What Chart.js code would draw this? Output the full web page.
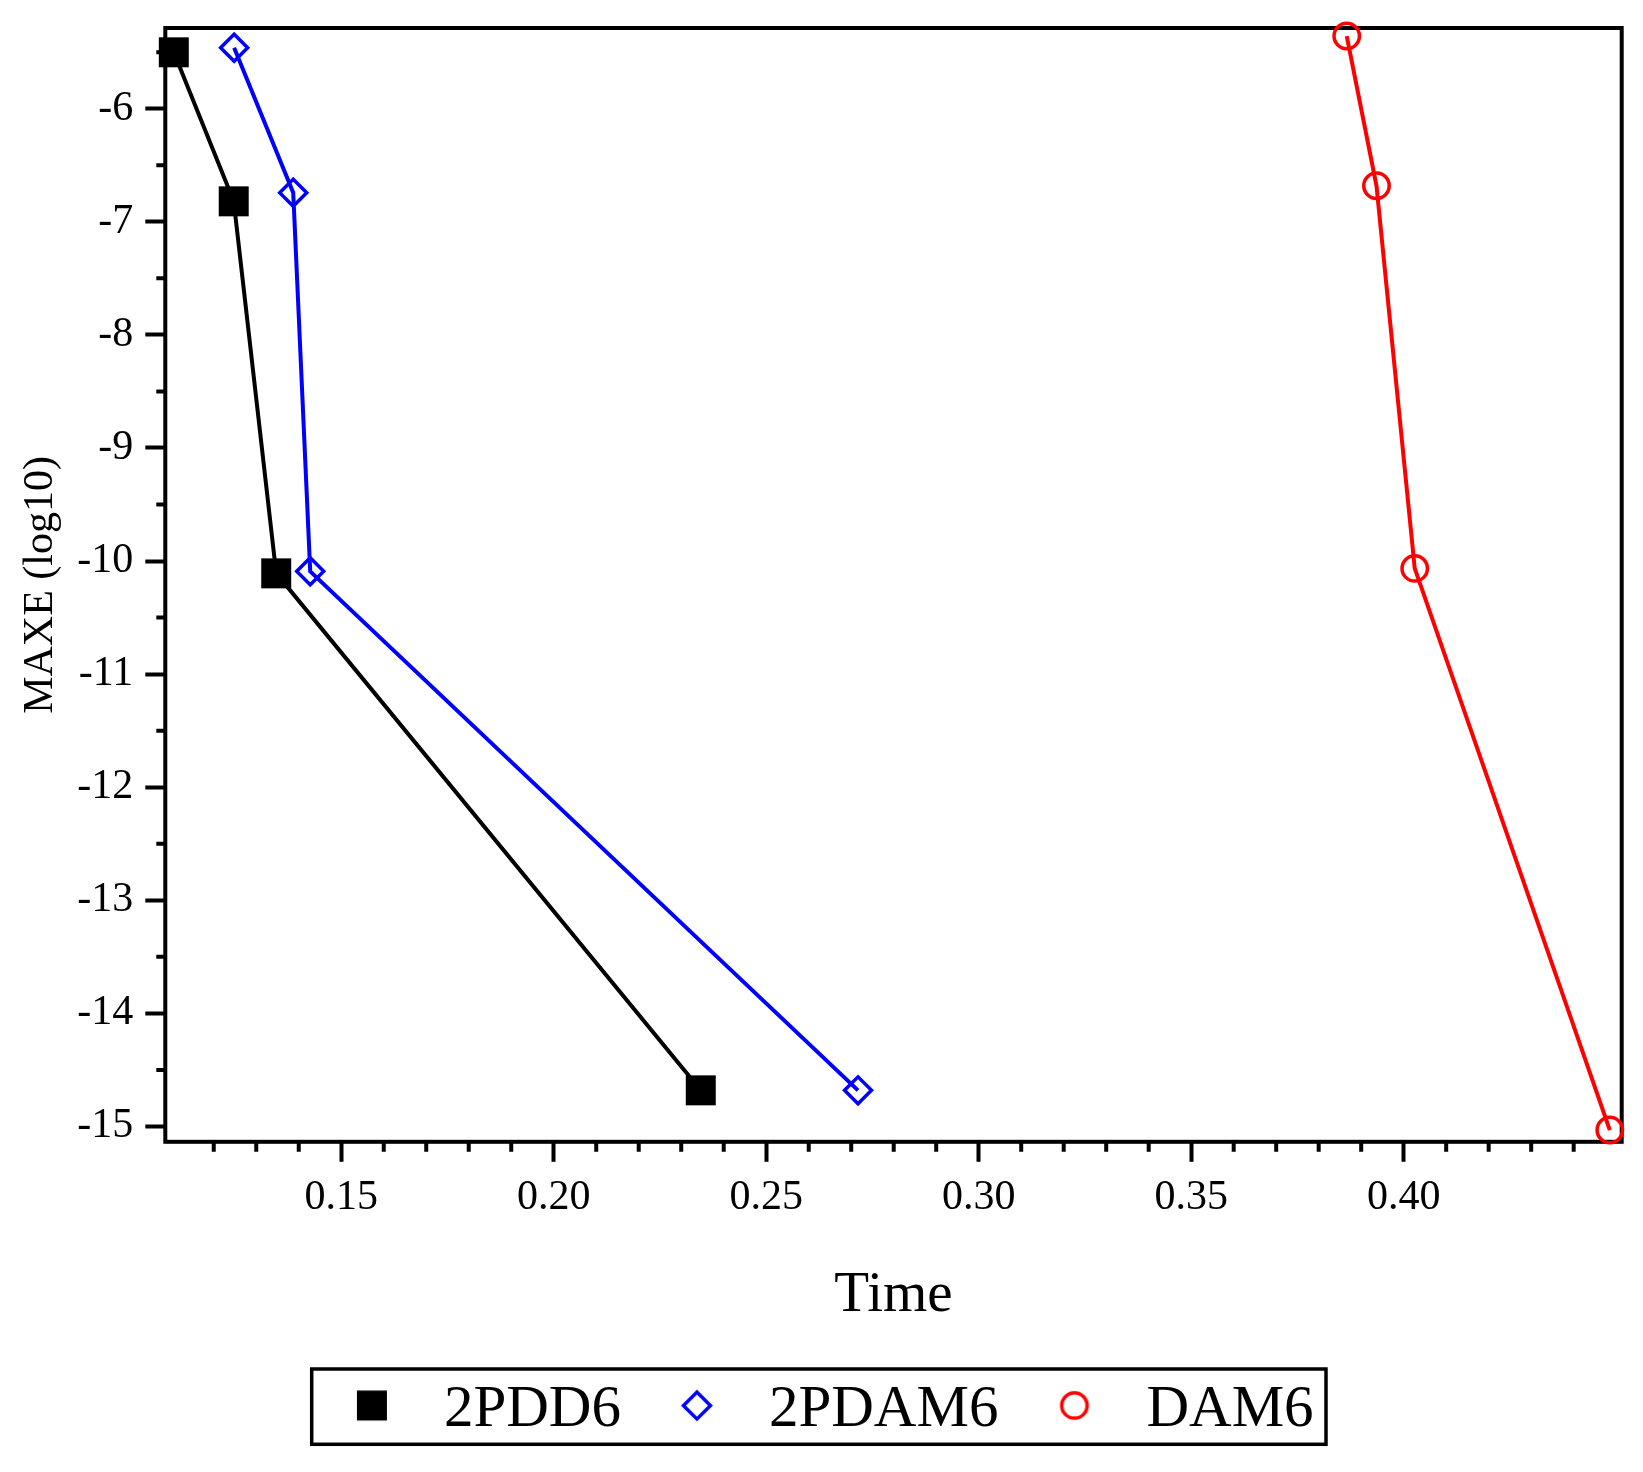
<!DOCTYPE html>
<html>
<head>
<meta charset="utf-8">
<title>MAXE vs Time</title>
<script src="https://cdn.jsdelivr.net/npm/chart.js@4.4.1/dist/chart.umd.min.js"></script>
<style>
  html, body { margin: 0; padding: 0; background: #fff; }
  canvas { display: block; }
</style>
</head>
<body>
<canvas id="maxeChart" width="1643" height="1472"></canvas>
<script>
const seriesNames = ["2PDD6", "2PDAM6", "DAM6"];
const pdd6Time = [0.1106, 0.1247, 0.1347, 0.2346];
const pdd6Maxe = [-5.501, -6.819, -10.109, -14.681];
const pdam6Time = [0.1248, 0.1387, 0.1427, 0.2716];
const pdam6Maxe = [-5.461, -6.743, -10.091, -14.681];
const dam6Time = [0.3866, 0.3936, 0.4026, 0.4485];
const dam6Maxe = [-5.357, -6.681, -10.065, -15.032];

const xTickLabels = ["0.15", "0.20", "0.25", "0.30", "0.35", "0.40"];
const yTickLabels = ["-15", "-14", "-13", "-12", "-11", "-10", "-9", "-8", "-7", "-6"];
const xRange = [0.1086, 0.4513];
const yRange = [-15.136, -5.286];

const serif = "'Liberation Serif', 'Times New Roman', serif";

function toPoints(xs, ys) {
  return xs.map((x, i) => ({ x: x, y: ys[i] }));
}

// small canvases used as legend symbols (drawn a bit above the text middle)
function makeMarker(kind, color) {
  const c = document.createElement("canvas");
  c.width = 44;
  c.height = 54;
  const g = c.getContext("2d");
  const cx = 22, cy = 27 - 4.6;
  g.fillStyle = color;
  g.strokeStyle = color;
  g.lineWidth = 3.5;
  if (kind === "square") {
    g.fillRect(cx - 15, cy - 15, 30, 30);
  } else if (kind === "diamond") {
    g.beginPath();
    g.moveTo(cx - 13.5, cy);
    g.lineTo(cx, cy - 13.5);
    g.lineTo(cx + 13.5, cy);
    g.lineTo(cx, cy + 13.5);
    g.closePath();
    g.stroke();
  } else {
    g.beginPath();
    g.arc(cx, cy, 12.7, 0, Math.PI * 2);
    g.stroke();
  }
  return c;
}

const legendMarkers = [
  makeMarker("square", "#000000"),
  makeMarker("diamond", "#0000ff"),
  makeMarker("circle", "#ff0000"),
];

// plot frame, minor ticks and the legend box
const framePlugin = {
  id: "framePlugin",
  beforeDatasetsDraw(chart) {
    const { ctx, chartArea, scales } = chart;
    ctx.save();
    ctx.strokeStyle = "#000";
    ctx.lineWidth = 4;
    ctx.strokeRect(
      chartArea.left,
      chartArea.top,
      chartArea.right - chartArea.left,
      chartArea.bottom - chartArea.top
    );
    ctx.beginPath();
    const xs = scales.x;
    for (let k = Math.ceil(xs.min * 100); k <= Math.floor(xs.max * 100); k++) {
      if (k % 5 === 0) continue;
      const px = xs.getPixelForValue(k / 100);
      if (px - chartArea.left < 8 || chartArea.right - px < 8) continue;
      ctx.moveTo(px, chartArea.bottom);
      ctx.lineTo(px, chartArea.bottom + 10);
    }
    const ys = scales.y;
    for (let k = Math.ceil(ys.min * 2); k <= Math.floor(ys.max * 2); k++) {
      if (k % 2 === 0) continue;
      const py = ys.getPixelForValue(k / 2);
      ctx.moveTo(chartArea.left, py);
      ctx.lineTo(chartArea.left - 9, py);
    }
    ctx.stroke();
    ctx.restore();
  },
  afterDraw(chart) {
    const boxes = chart.legend && chart.legend.legendHitBoxes;
    if (!boxes || !boxes.length) return;
    const first = boxes[0];
    const last = boxes[boxes.length - 1];
    const left = first.left - 17.7;
    const right = last.left + last.width + 12.4;
    const top = first.top - 11.6;
    const bottom = first.top + first.height + 4.7;
    const ctx = chart.ctx;
    ctx.save();
    ctx.strokeStyle = "#000";
    ctx.lineWidth = 3.5;
    ctx.strokeRect(left, top, right - left, bottom - top);
    ctx.restore();
  },
};

const ctx = document.getElementById("maxeChart").getContext("2d");
const maxeChart = new Chart(ctx, {
  type: "scatter",
  data: {
    datasets: [
      {
        label: seriesNames[0],
        data: toPoints(pdd6Time, pdd6Maxe),
        showLine: true,
        borderColor: "#000000",
        backgroundColor: "#000000",
        borderWidth: 4,
        pointStyle: "rect",
        pointRadius: 21.2,
        pointBorderWidth: 0,
        pointBackgroundColor: "#000000",
        clip: false,
      },
      {
        label: seriesNames[1],
        data: toPoints(pdam6Time, pdam6Maxe),
        showLine: true,
        borderColor: "#0000ff",
        backgroundColor: "rgba(0,0,0,0)",
        borderWidth: 4,
        pointStyle: "rectRot",
        pointRadius: 13.5,
        pointBorderWidth: 3.5,
        pointBorderColor: "#0000ff",
        pointBackgroundColor: "rgba(0,0,0,0)",
        clip: false,
      },
      {
        label: seriesNames[2],
        data: toPoints(dam6Time, dam6Maxe),
        showLine: true,
        borderColor: "#ff0000",
        backgroundColor: "rgba(0,0,0,0)",
        borderWidth: 4,
        pointStyle: "circle",
        pointRadius: 12.7,
        pointBorderWidth: 3.5,
        pointBorderColor: "#ff0000",
        pointBackgroundColor: "rgba(0,0,0,0)",
        clip: false,
      },
    ],
  },
  options: {
    responsive: false,
    animation: false,
    devicePixelRatio: 1,
    layout: {
      padding: { top: 28, right: 0, bottom: 22.4, left: 0 },
    },
    scales: {
      x: {
        type: "linear",
        position: "bottom",
        min: xRange[0],
        max: xRange[1],
        afterBuildTicks: (scale) => {
          scale.ticks = xTickLabels.map((t) => ({ value: Number(t) }));
        },
        afterFit: (scale) => {
          scale.height = 205.3;
          scale.paddingLeft = 0;
          scale.paddingRight = 0;
        },
        border: { display: false },
        grid: {
          drawOnChartArea: false,
          drawTicks: true,
          tickLength: 20,
          tickWidth: 4,
          tickColor: "#000",
        },
        ticks: {
          autoSkip: false,
          maxRotation: 0,
          padding: 11,
          color: "#000",
          font: { family: serif, size: 42 },
          callback: (value, index) => xTickLabels[index],
        },
        title: {
          display: true,
          text: "Time",
          color: "#000",
          font: { family: serif, size: 57 },
          padding: { top: 0, bottom: 17 },
        },
      },
      y: {
        type: "linear",
        position: "left",
        min: yRange[0],
        max: yRange[1],
        afterBuildTicks: (scale) => {
          scale.ticks = yTickLabels.map((t) => ({ value: Number(t) }));
        },
        afterFit: (scale) => {
          scale.width = 165.3;
          scale.paddingTop = 0;
          scale.paddingBottom = 0;
        },
        border: { display: false },
        grid: {
          drawOnChartArea: false,
          drawTicks: true,
          tickLength: 20,
          tickWidth: 4,
          tickColor: "#000",
        },
        ticks: {
          autoSkip: false,
          padding: 12,
          color: "#000",
          font: { family: serif, size: 42 },
          callback: (value, index) => yTickLabels[index],
        },
        title: {
          display: true,
          text: "MAXE (log10)",
          color: "#000",
          font: { family: serif, size: 42 },
          padding: { top: 15.6, bottom: 0 },
        },
      },
      // empty right-hand axis, only keeps the right margin out of the legend's width
      yRight: {
        type: "linear",
        position: "right",
        display: true,
        border: { display: false },
        grid: { display: false, drawTicks: false },
        ticks: { display: false },
        afterFit: (scale) => {
          scale.width = 21.3;
          scale.paddingTop = 0;
          scale.paddingBottom = 0;
        },
      },
    },
    plugins: {
      legend: {
        display: true,
        position: "bottom",
        labels: {
          usePointStyle: true,
          pointStyleWidth: 85,
          padding: 33.5,
          color: "#000",
          font: { family: serif, size: 59 },
          generateLabels: (chart) =>
            chart.data.datasets.map((ds, i) => ({
              text: ds.label,
              pointStyle: legendMarkers[i],
              fillStyle: ds.borderColor,
              strokeStyle: ds.borderColor,
              lineWidth: 0,
              fontColor: "#000",
              hidden: !chart.isDatasetVisible(i),
              datasetIndex: i,
            })),
        },
      },
      tooltip: { enabled: false },
    },
  },
  plugins: [framePlugin],
});
</script>
</body>
</html>
